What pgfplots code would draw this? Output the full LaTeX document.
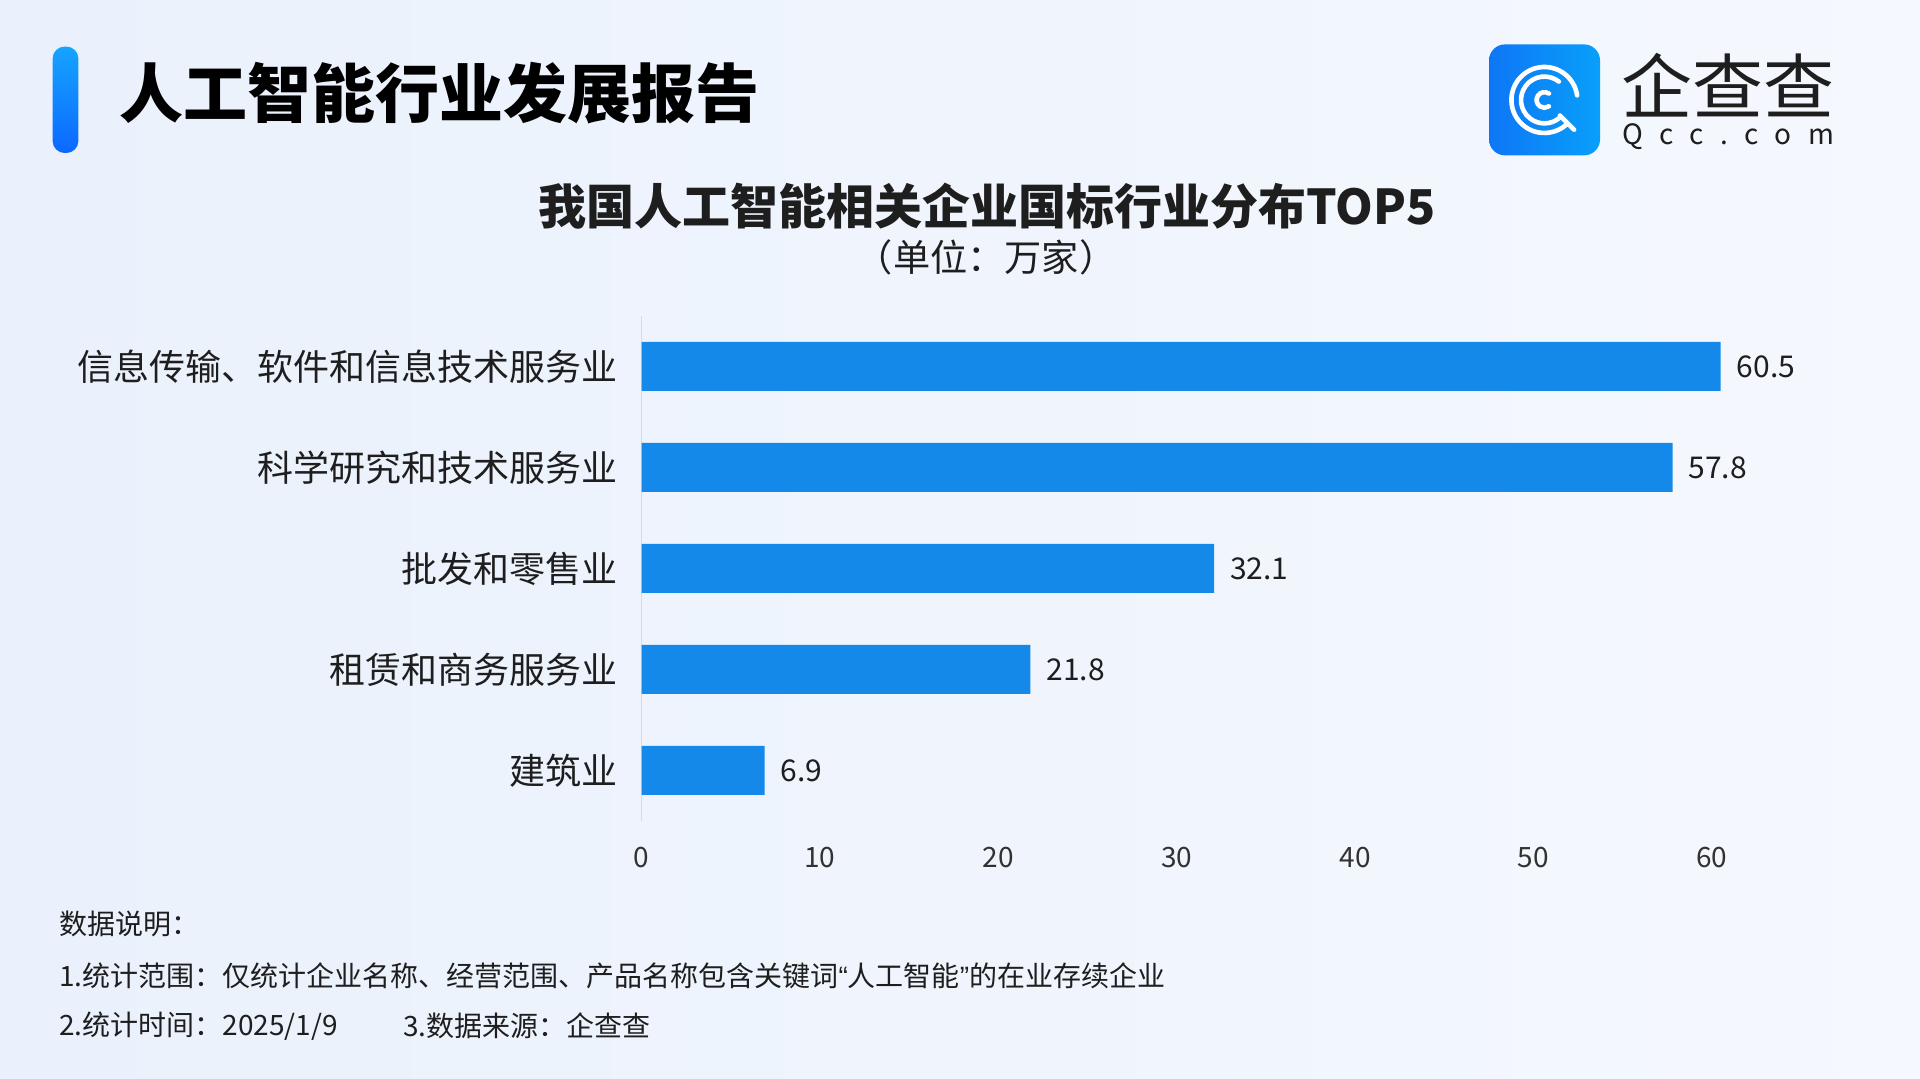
\documentclass[border=0pt]{standalone}
\usepackage{fontspec}
\setmainfont{Noto Sans CJK SC}
\newfontfamily\latin{Liberation Sans}
\usepackage{pgfplots}
\pgfplotsset{compat=1.18}
\definecolor{bgL}{RGB}{234,241,252}
\definecolor{bgR}{RGB}{245,248,254}
\definecolor{barc}{RGB}{21,137,234}
\definecolor{txt}{RGB}{30,30,30}
\definecolor{tickc}{RGB}{50,50,50}
\definecolor{axc}{RGB}{215,220,228}
\definecolor{pillT}{RGB}{22,164,255}
\definecolor{pillB}{RGB}{12,104,255}
\definecolor{logoL}{RGB}{14,118,246}
\definecolor{logoR}{RGB}{8,160,250}
\newcommand{\fs}[1]{\fontsize{#1}{#1}\selectfont}
\begin{document}
\begin{tikzpicture}
\useasboundingbox (0,0) rectangle (960pt,539.5pt);
\shade[left color=bgL, right color=bgR] (0,0) rectangle (960pt,539.5pt);
% header pill
\shade[top color=pillT, bottom color=pillB, rounded corners=6pt] (26.3pt,463pt) rectangle (39.2pt,516.2pt);
\node[anchor=west, inner sep=0pt, text=black] at (59.4pt,493pt) {\fs{32}\bfseries 人工智能行业发展报告};
% logo
\shade[left color=logoL, right color=logoR, rounded corners=8pt] (744.5pt,461.8pt) rectangle (800pt,517.3pt);
\begin{scope}[shift={(772.2pt,489.5pt)}, white, line width=2.3pt, line cap=round]
\draw (8:16.5pt) arc[start angle=8, end angle=312, radius=16.5pt];
\draw (-45:11pt) -- (-45:21pt);
\draw (52:11.7pt) arc[start angle=52, end angle=310, radius=11.7pt];
\draw (55:3.9pt) arc[start angle=55, end angle=305, radius=3.9pt];
\end{scope}
\node[anchor=center, inner sep=0pt, text=txt] at (864pt,497pt) {\fs{35.5}企查查};
\node[anchor=center, inner sep=0pt, text=txt] at (864pt,471pt) {\fs{14}\makebox[106pt][s]{Q\hfill c\hfill c\hfill .\hfill c\hfill o\hfill m}};
% titles
\node[anchor=center, inner sep=0pt, text=txt] at (493.5pt,436.6pt) {\fs{24}\bfseries 我国人工智能相关企业国标行业分布TOP5};
\node[anchor=center, inner sep=0pt, text=txt] at (493pt,410.9pt) {\fs{18.6}（单位：万家）};
% footnotes
\node[anchor=west, inner sep=0pt, text=txt] at (29.4pt,77.3pt) {\fs{14}数据说明：};
\node[anchor=west, inner sep=0pt, text=txt] at (29.4pt,51.5pt) {\fs{14}1.统计范围：仅统计企业名称、经营范围、产品名称包含关键词{\latin “}人工智能{\latin ”}的在业存续企业};
\node[anchor=west, inner sep=0pt, text=txt] at (29.4pt,26.5pt) {\fs{14}2.统计时间：2025/1/9};
\node[anchor=west, inner sep=0pt, text=txt] at (201.4pt,26.5pt) {\fs{14}3.数据来源：企查查};
\begin{axis}[
  at={(320.8pt,129pt)}, anchor=south west,
  scale only axis, width=535.1pt, height=252.5pt,
  xmin=0, xmax=60, ymin=-0.5, ymax=4.5,
  enlargelimits=false, clip=false,
  xbar, bar width=24.5pt,
  axis lines*=left,
  axis line style={-},
  x axis line style={draw=none},
  y axis line style={draw=axc, line width=0.8pt},
  major tick length=0pt,
  tick style={draw=none},
  xtick={0,10,...,60},
  ytick={0,1,2,3,4},
  yticklabels={建筑业,租赁和商务服务业,批发和零售业,科学研究和技术服务业,信息传输、软件和信息技术服务业},
  /pgf/number format/assume math mode=true,
  xticklabel style={font=\fs{14}, text=tickc, yshift=-9.7pt},
  yticklabel style={font=\fs{18}, text=txt, xshift=-8.5pt},
  nodes near coords={\pgfmathprintnumber[fixed,fixed zerofill,precision=1,assume math mode=true]{\pgfplotspointmeta}},
  every node near coord/.append style={font=\fs{15}, text=txt, xshift=4.5pt},
]
\addplot[fill=barc, draw=none] coordinates {(6.9,0) (21.8,1) (32.1,2) (57.8,3) (60.5,4)};
\end{axis}
\end{tikzpicture}
\end{document}
